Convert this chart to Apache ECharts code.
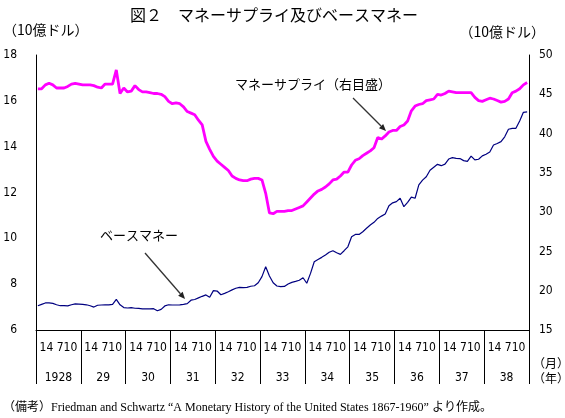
<!DOCTYPE html>
<html><head><meta charset="utf-8">
<script src="https://cdn.jsdelivr.net/npm/echarts@6/dist/echarts.min.js"></script>
<style>html,body{margin:0;padding:0;background:#fff}#c{width:565px;height:418px}</style>
</head><body><div id="c"></div>
<script>
// years shown under the axis
const yearLabels = ['1928','29','30','31','32','33','34','35','36','37','38'];
const monthTickText = '14 710';
// monthly categories 1928-01 .. 1938-12
const months = [];
for (let y = 1928; y <= 1938; y++) for (let m = 1; m <= 12; m++) months.push(y + '-' + m);

// Money supply (right scale, 10 bn $)
const moneySupply = [
  45.7,45.7,46.2,46.4,46.2,45.8,45.8,45.8,46.0,46.3,46.4,46.3,
  46.2,46.2,46.2,46.1,45.9,45.8,46.3,46.3,46.3,48.1,45.1,45.8,
  45.3,45.4,46.1,45.6,45.3,45.3,45.2,45.1,45.1,45.0,44.7,44.1,
  43.8,43.9,43.8,43.4,42.8,42.6,42.4,41.7,41.1,39.0,38.0,37.1,
  36.5,36.1,35.7,35.3,34.6,34.3,34.1,34.0,34.0,34.2,34.3,34.3,
  34.1,32.4,29.9,29.8,30.1,30.1,30.1,30.2,30.2,30.4,30.6,30.8,
  31.3,31.8,32.3,32.7,32.9,33.2,33.6,34.1,34.2,34.6,35.1,35.1,
  36.0,36.6,36.8,37.2,37.5,37.8,38.2,39.5,39.3,39.7,40.2,40.4,
  40.4,40.9,41.1,41.6,42.9,43.5,43.7,43.8,44.2,44.3,44.4,45.0,
  44.9,45.1,45.4,45.3,45.2,45.2,45.2,45.2,45.2,44.6,44.2,44.1,
  44.3,44.5,44.4,44.2,44.0,44.1,44.4,45.2,45.4,45.7,46.2,46.5
];
// Base money (left scale, 10 bn $)
const baseMoney = [
  7.06,7.12,7.18,7.18,7.16,7.10,7.06,7.06,7.05,7.10,7.14,7.13,
  7.12,7.10,7.06,7.00,7.08,7.09,7.10,7.10,7.12,7.34,7.10,6.98,
  6.96,6.98,6.95,6.94,6.92,6.92,6.92,6.93,6.84,6.90,7.05,7.10,
  7.09,7.09,7.10,7.12,7.15,7.30,7.33,7.40,7.47,7.53,7.43,7.72,
  7.70,7.54,7.60,7.67,7.75,7.82,7.86,7.85,7.86,7.91,7.93,8.06,
  8.33,8.76,8.36,8.06,7.92,7.89,7.90,8.01,8.08,8.12,8.17,8.28,
  8.04,8.47,8.98,9.08,9.17,9.27,9.39,9.46,9.37,9.30,9.46,9.63,
  10.07,10.17,10.17,10.29,10.44,10.58,10.70,10.87,10.97,11.06,11.42,11.55,
  11.60,11.75,11.38,11.57,11.80,11.75,12.33,12.54,12.69,12.97,13.10,13.23,
  13.17,13.24,13.46,13.52,13.49,13.48,13.39,13.36,13.59,13.42,13.45,13.60,
  13.67,13.77,14.07,14.14,14.22,14.43,14.76,14.80,14.80,15.12,15.50,15.52
];

const jp = "'Noto Sans CJK JP', sans-serif";
const num = "'Liberation Sans Narrow', 'DejaVu Sans Condensed', 'Liberation Sans', sans-serif";

function arrow(x1, y1, x2, y2) {
  const a = Math.atan2(y2 - y1, x2 - x1), L = 7, W = 3;
  const bx = x2 - L * Math.cos(a), by = y2 - L * Math.sin(a);
  const px = -Math.sin(a) * W, py = Math.cos(a) * W;
  return [
    { type: 'line', shape: { x1, y1, x2: bx, y2: by }, style: { stroke: '#333', lineWidth: 1.3 } },
    { type: 'polygon', shape: { points: [[x2, y2], [bx + px, by + py], [bx - px, by - py]] }, style: { fill: '#222' } }
  ];
}

const chart = echarts.init(document.getElementById('c'));
chart.setOption({
  animation: false,
  backgroundColor: '#fff',
  title: {
    text: '図２　マネーサプライ及びベースマネー',
    left: 125, top: 2,
    textStyle: { fontFamily: jp, fontSize: 16, fontWeight: 'normal', color: '#000' }
  },
  grid: { left: 36, right: 36, top: 55, bottom: 88 },
  xAxis: [
    { type: 'category', data: months, boundaryGap: true, show: false },
    {
      type: 'category', data: yearLabels, boundaryGap: true, position: 'bottom',
      axisLine: { show: true, lineStyle: { color: '#000', width: 1 } },
      axisTick: { show: true, length: 54, interval: 0, lineStyle: { color: '#000', width: 1 } },
      axisLabel: {
        interval: 0, margin: 6,
        formatter: v => '{m|' + monthTickText + '}\n{y|' + v + '}',
        rich: {
          m: { fontFamily: num, fontSize: 12, color: '#000', lineHeight: 24 },
          y: { fontFamily: num, fontSize: 12, color: '#000', lineHeight: 36 }
        }
      }
    }
  ],
  yAxis: [
    {
      type: 'value', min: 6, max: 18, interval: 2, position: 'left',
      axisLine: { show: true, lineStyle: { color: '#000', width: 1 } },
      axisTick: { show: false }, splitLine: { show: false },
      axisLabel: { margin: 19, fontFamily: num, fontSize: 12, color: '#000' }
    },
    {
      type: 'value', min: 15, max: 50, interval: 5, position: 'right',
      axisLine: { show: true, lineStyle: { color: '#000', width: 1 } },
      axisTick: { show: false }, splitLine: { show: false },
      axisLabel: { margin: 10, fontFamily: num, fontSize: 12, color: '#000' }
    }
  ],
  series: [
    {
      name: 'マネーサプライ', type: 'line', xAxisIndex: 0, yAxisIndex: 1, data: moneySupply,
      showSymbol: false, lineStyle: { color: '#FF00FF', width: 2.8 }, z: 3
    },
    {
      name: 'ベースマネー', type: 'line', xAxisIndex: 0, yAxisIndex: 0, data: baseMoney,
      showSymbol: false, lineStyle: { color: '#000080', width: 1.2 }, z: 2
    }
  ],
  graphic: [
    { type: 'text', left: 3, top: 23, style: { text: '（10億ドル）', font: '14px ' + jp, fill: '#000' } },
    { type: 'text', right: 20, top: 25, style: { text: '（10億ドル）', font: '14px ' + jp, fill: '#000' } },
    { type: 'text', x: 235, y: 78, style: { text: 'マネーサプライ（右目盛）', font: '13px ' + jp, fill: '#000' } },
    { type: 'text', x: 100, y: 229, style: { text: 'ベースマネー', font: '13px ' + jp, fill: '#000' } },
    ...arrow(353, 98, 386, 131),
    ...arrow(145, 253, 185, 299),
    { type: 'text', x: 533, y: 357, style: { text: '（月）', font: '12px ' + jp, fill: '#000' } },
    { type: 'text', x: 533, y: 372, style: { text: '（年）', font: '12px ' + jp, fill: '#000' } },
    { type: 'text', x: 3, y: 402, style: { text: '（備考）Friedman and Schwartz “A Monetary History of the United States 1867-1960” より作成。', font: "12px 'Liberation Serif', 'Noto Sans CJK JP', serif", fill: '#000' } }
  ]
});
</script></body></html>
